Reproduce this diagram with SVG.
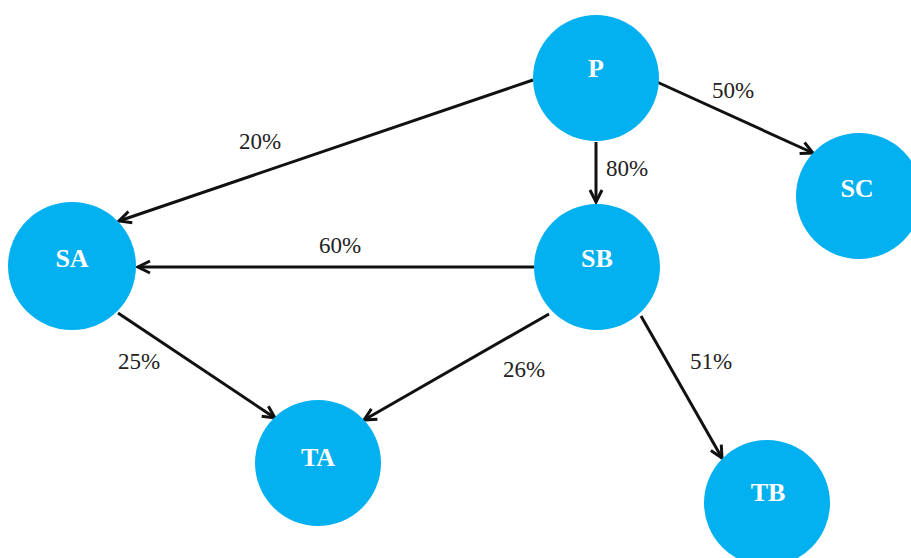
<svg xmlns="http://www.w3.org/2000/svg" width="911" height="558" viewBox="0 0 911 558">
<style>
.node circle{fill:#03b0f0}
.node text{font-family:"Liberation Serif",serif;font-weight:bold;font-size:26px;fill:#fff;text-anchor:middle}
.edge{stroke:#111;stroke-width:3;fill:none;marker-end:url(#arr)}
.lbl{font-family:"Liberation Serif",serif;font-size:23px;fill:#222;text-anchor:middle}
</style>
<defs>
<marker id="arr" markerUnits="userSpaceOnUse" viewBox="0 0 16 16" refX="14" refY="8" markerWidth="16" markerHeight="16" orient="auto">
<path d="M2,2 L14,8 L2,14" fill="none" stroke="#111" stroke-width="3" stroke-linejoin="miter"/>
</marker>
</defs>
<rect width="911" height="558" fill="#fff"/>
<g id="connectors">
<line class="edge" x1="533" y1="80" x2="119" y2="221"/>
<line class="edge" x1="657" y1="82" x2="813" y2="153"/>
<line class="edge" x1="596" y1="142" x2="596" y2="202"/>
<line class="edge" x1="534" y1="267" x2="138" y2="267"/>
<line class="edge" x1="118" y1="313" x2="275" y2="418"/>
<line class="edge" x1="549" y1="314" x2="364" y2="420"/>
<line class="edge" x1="641" y1="316" x2="722" y2="458"/>
<text class="lbl" x="260" y="149">20%</text>
<text class="lbl" x="733" y="98">50%</text>
<text class="lbl" x="627" y="176">80%</text>
<text class="lbl" x="340" y="253">60%</text>
<text class="lbl" x="139" y="369">25%</text>
<text class="lbl" x="524" y="377">26%</text>
<text class="lbl" x="711" y="369">51%</text>
</g>
<g id="P" class="node"><circle cx="596" cy="78" r="63"/><text x="596" y="77">P</text></g>
<g id="SC" class="node"><circle cx="859" cy="196" r="63"/><text x="857" y="197">SC</text></g>
<g id="SA" class="node"><circle cx="72" cy="266" r="64"/><text x="72" y="267">SA</text></g>
<g id="SB" class="node"><circle cx="597" cy="267" r="63"/><text x="597" y="267">SB</text></g>
<g id="TA" class="node"><circle cx="318" cy="463" r="63"/><text x="318" y="466">TA</text></g>
<g id="TB" class="node"><circle cx="767" cy="503" r="63"/><text x="768" y="501">TB</text></g>
</svg>
